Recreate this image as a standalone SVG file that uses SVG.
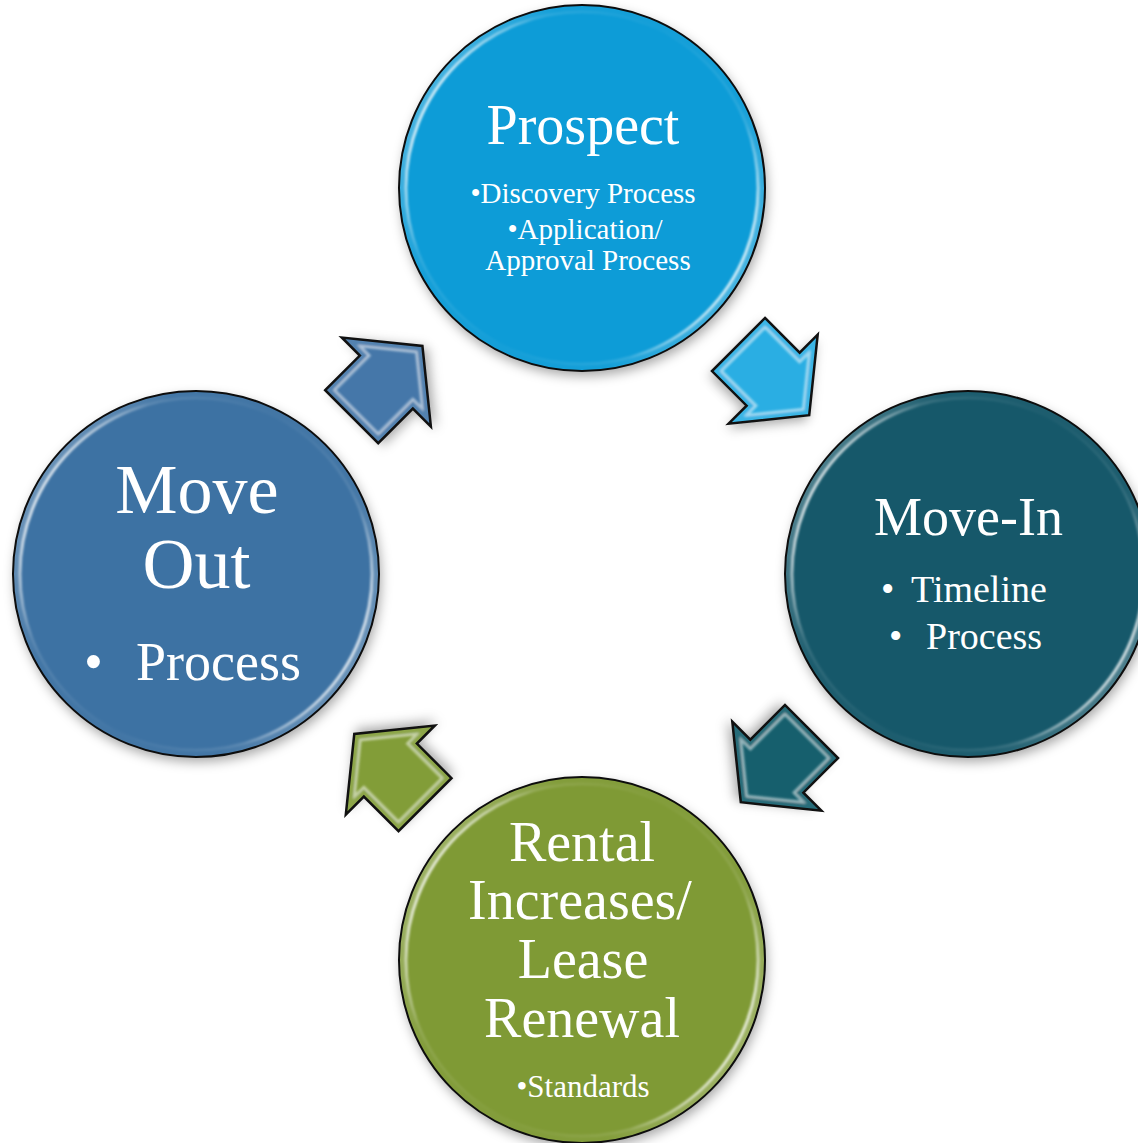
<svg xmlns="http://www.w3.org/2000/svg" xmlns:xlink="http://www.w3.org/1999/xlink" width="1138" height="1143" viewBox="0 0 1138 1143">
  <style>
    .disc { stroke: none; }
    .outline { fill: none; stroke: #0d0d0d; stroke-width: 2; }
    .rim { fill: none; stroke: url(#rimGrad); stroke-width: 3; }
    .band { fill: none; stroke: url(#bandGrad); stroke-width: 12; }
    .label { font-family: "Liberation Serif", "Times New Roman", serif; fill: #ffffff; text-anchor: middle; }
    .label.start { text-anchor: start; }
    .title { font-size: 56px; }
    .item { font-size: 29px; }
    .arrow-outline { fill: none; stroke: #111111; stroke-width: 2.5; stroke-linejoin: miter; }
    .bevel-hi { fill: none; stroke: #ffffff; stroke-opacity: 0.55; stroke-width: 16; }
    .bevel-base { fill: none; stroke-opacity: 0.85; stroke-width: 11; }
  </style>
  <defs>
    <!-- rim highlight strongest on the left and right arcs -->
    <linearGradient id="rimGrad" x1="0" y1="0.25" x2="1" y2="0.75">
      <stop offset="0" stop-color="#ffffff" stop-opacity="0.95"/>
      <stop offset="0.2" stop-color="#ffffff" stop-opacity="0.1"/>
      <stop offset="0.5" stop-color="#ffffff" stop-opacity="0"/>
      <stop offset="0.8" stop-color="#ffffff" stop-opacity="0.1"/>
      <stop offset="1" stop-color="#ffffff" stop-opacity="0.95"/>
    </linearGradient>
    <linearGradient id="bandGrad" x1="0" y1="0.25" x2="1" y2="0.75">
      <stop offset="0" stop-color="#ffffff" stop-opacity="0.28"/>
      <stop offset="0.25" stop-color="#ffffff" stop-opacity="0.03"/>
      <stop offset="0.75" stop-color="#ffffff" stop-opacity="0.03"/>
      <stop offset="1" stop-color="#ffffff" stop-opacity="0.28"/>
    </linearGradient>
    <filter id="shadow" x="-20%" y="-20%" width="140%" height="140%">
      <feDropShadow dx="2" dy="5" stdDeviation="6" flood-color="#000000" flood-opacity="0.35"/>
    </filter>
    <filter id="soft" x="-10%" y="-10%" width="120%" height="120%">
      <feGaussianBlur stdDeviation="0.9"/>
    </filter>
    <!-- block arrow in local space, pointing along +x -->
    <polygon id="arrow-shape" points="0,-37.5 49,-37.5 49,-63 100,0 49,63 49,37.5 0,37.5"/>
    <clipPath id="arrow-clip"><use xlink:href="#arrow-shape"/></clipPath>
    <clipPath id="clip-prospect"><circle cx="582" cy="188" r="183"/></clipPath>
    <clipPath id="clip-movein"><circle cx="968" cy="574" r="183"/></clipPath>
    <clipPath id="clip-rental"><circle cx="582" cy="960" r="183"/></clipPath>
    <clipPath id="clip-moveout"><circle cx="196" cy="574" r="183"/></clipPath>
  </defs>

  <rect width="1138" height="1143" fill="#ffffff"/>

  <!-- connectors -->
  <g id="connectors">
    <g id="arrow-prospect-movein" transform="translate(738.5,344.5) rotate(45)">
      <use xlink:href="#arrow-shape" fill="#2AAEE3" filter="url(#shadow)"/>
      <g clip-path="url(#arrow-clip)" filter="url(#soft)">
        <use xlink:href="#arrow-shape" class="bevel-hi"/>
        <use xlink:href="#arrow-shape" class="bevel-base" stroke="#2AAEE3"/>
      </g>
      <use xlink:href="#arrow-shape" class="arrow-outline"/>
    </g>
    <g id="arrow-movein-rental" transform="translate(811.5,731.5) rotate(135)">
      <use xlink:href="#arrow-shape" fill="#155E6D" filter="url(#shadow)"/>
      <g clip-path="url(#arrow-clip)" filter="url(#soft)">
        <use xlink:href="#arrow-shape" class="bevel-hi"/>
        <use xlink:href="#arrow-shape" class="bevel-base" stroke="#155E6D"/>
      </g>
      <use xlink:href="#arrow-shape" class="arrow-outline"/>
    </g>
    <g id="arrow-rental-moveout" transform="translate(425,804.7) rotate(225)">
      <use xlink:href="#arrow-shape" fill="#829D38" filter="url(#shadow)"/>
      <g clip-path="url(#arrow-clip)" filter="url(#soft)">
        <use xlink:href="#arrow-shape" class="bevel-hi"/>
        <use xlink:href="#arrow-shape" class="bevel-base" stroke="#829D38"/>
      </g>
      <use xlink:href="#arrow-shape" class="arrow-outline"/>
    </g>
    <g id="arrow-moveout-prospect" transform="translate(351.7,416.7) rotate(-45)">
      <use xlink:href="#arrow-shape" fill="#4477A9" filter="url(#shadow)"/>
      <g clip-path="url(#arrow-clip)" filter="url(#soft)">
        <use xlink:href="#arrow-shape" class="bevel-hi"/>
        <use xlink:href="#arrow-shape" class="bevel-base" stroke="#4477A9"/>
      </g>
      <use xlink:href="#arrow-shape" class="arrow-outline"/>
    </g>
  </g>

  <!-- Prospect -->
  <g id="node-prospect">
    <circle class="disc" cx="582" cy="188" r="183" fill="#079CD7" filter="url(#shadow)"/>
    <g clip-path="url(#clip-prospect)" filter="url(#soft)">
      <circle class="band" cx="582" cy="188" r="181"/>
      <circle class="rim" cx="582" cy="188" r="176"/>
    </g>
    <circle class="outline" cx="582" cy="188" r="183"/>
    <text class="label title" x="583" y="144">Prospect</text>
    <text class="label item" x="583" y="203">•Discovery Process</text>
    <text class="label item" x="585" y="239">•Application/</text>
    <text class="label item" x="588" y="270">Approval Process</text>
  </g>

  <!-- Move-In -->
  <g id="node-movein">
    <circle class="disc" cx="968" cy="574" r="183" fill="#12596A" filter="url(#shadow)"/>
    <g clip-path="url(#clip-movein)" filter="url(#soft)">
      <circle class="band" cx="968" cy="574" r="181"/>
      <circle class="rim" cx="968" cy="574" r="176"/>
    </g>
    <circle class="outline" cx="968" cy="574" r="183"/>
    <text class="label" x="968.5" y="535" font-size="54">Move-In</text>
    <text class="label start" font-size="38"><tspan x="881" y="602">•</tspan><tspan x="911" y="602">Timeline</tspan></text>
    <text class="label start" font-size="38"><tspan x="889" y="649">•</tspan><tspan x="926" y="649">Process</tspan></text>
  </g>

  <!-- Rental Increases / Lease Renewal -->
  <g id="node-rental">
    <circle class="disc" cx="582" cy="960" r="183" fill="#7F9A35" filter="url(#shadow)"/>
    <g clip-path="url(#clip-rental)" filter="url(#soft)">
      <circle class="band" cx="582" cy="960" r="181"/>
      <circle class="rim" cx="582" cy="960" r="176"/>
    </g>
    <circle class="outline" cx="582" cy="960" r="183"/>
    <text class="label title" x="582" y="861">Rental</text>
    <text class="label title" x="580" y="919">Increases/</text>
    <text class="label title" x="583" y="978">Lease</text>
    <text class="label title" x="582" y="1037">Renewal</text>
    <text class="label" x="583" y="1097" font-size="31">•Standards</text>
  </g>

  <!-- Move Out -->
  <g id="node-moveout">
    <circle class="disc" cx="196" cy="574" r="183" fill="#3D72A3" filter="url(#shadow)"/>
    <g clip-path="url(#clip-moveout)" filter="url(#soft)">
      <circle class="band" cx="196" cy="574" r="181"/>
      <circle class="rim" cx="196" cy="574" r="176"/>
    </g>
    <circle class="outline" cx="196" cy="574" r="183"/>
    <text class="label" x="197" y="513" font-size="70">Move</text>
    <text class="label" x="196.5" y="588" font-size="72">Out</text>
    <text class="label start" font-size="54"><tspan x="84" y="680">•</tspan><tspan x="136" y="680">Process</tspan></text>
  </g>
</svg>
